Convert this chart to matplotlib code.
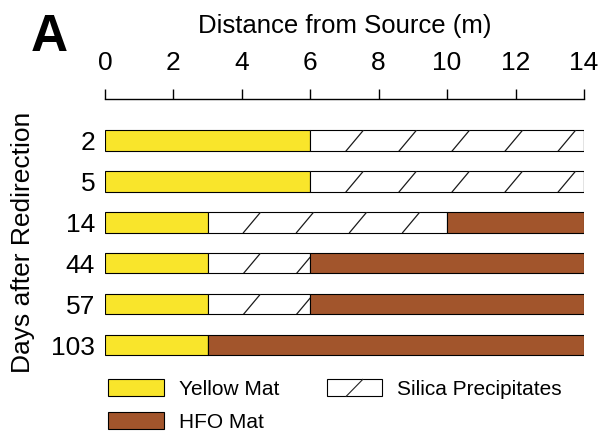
import matplotlib.pyplot as plt
from matplotlib.patches import Patch, Rectangle
from matplotlib.legend_handler import HandlerPatch
from matplotlib.lines import Line2D

plt.rcParams['font.family'] = ['Liberation Sans', 'DejaVu Sans']

days = ['2', '5', '14', '44', '57', '103']
yellow_mat = [6, 6, 3, 3, 3, 3]
silica = [8, 8, 7, 3, 3, 0]
hfo_mat = [0, 0, 4, 8, 8, 11]

yellow_col = '#F9E52B'
hfo_col = '#A2552C'
hatch_step = 1.55
hatch_slant = 0.5
bar_h = 0.5


class SlashHandler(HandlerPatch):
    # legend box with a single slash like the original
    def create_artists(self, legend, orig_handle, xdescent, ydescent,
                       width, height, fontsize, trans):
        r = Rectangle((-xdescent, -ydescent), width, height, facecolor='white',
                      edgecolor='black', lw=0.8, transform=trans)
        ln = Line2D([-xdescent + width * 0.35, -xdescent + width * 0.65],
                    [-ydescent, -ydescent + height], color='#222222', lw=0.8,
                    transform=trans)
        return [r, ln]


fig = plt.figure(figsize=(5.99, 4.32), dpi=100)
ax = fig.add_axes([0.175, 0.154, 0.8, 0.617])

ypos = list(range(len(days)))
ax.barh(ypos, yellow_mat, height=bar_h, color=yellow_col, edgecolor='black', lw=0.8)
sil_bars = ax.barh(ypos, silica, left=yellow_mat, height=bar_h, color='white',
                   edgecolor='black', lw=0.8)
left_hfo = [a + b for a, b in zip(yellow_mat, silica)]
ax.barh(ypos, hfo_mat, left=left_hfo, height=bar_h, color=hfo_col, edgecolor='black', lw=0.8)

# sparse diagonal hatch for silica precipitates
for y, x0, w, bar in zip(ypos, yellow_mat, silica, sil_bars):
    if w <= 0:
        continue
    x = x0 - hatch_slant
    while x < x0 + w:
        ln = Line2D([x, x + hatch_slant], [y + bar_h / 2, y - bar_h / 2],
                    color='#1a1a1a', lw=0.9)
        ax.add_line(ln)
        ln.set_clip_path(bar)
        x += hatch_step

ax.set_xlim(0, 14)
ax.set_ylim(5.5, -1.02)
ax.set_xticks(range(0, 15, 2))
ax.xaxis.tick_top()
ax.xaxis.set_label_position('top')
ax.tick_params(axis='x', direction='out', length=7, width=1, labelsize=19, pad=10)
ax.set_xlabel('Distance from Source (m)', fontsize=18.5, labelpad=13)
ax.set_yticks(ypos)
ax.set_yticklabels(days)
ax.tick_params(axis='y', length=0, labelsize=19, pad=7)
ax.set_ylabel('Days after Redirection', fontsize=19)
ax.yaxis.set_label_coords(-0.145, 0.463)
for s in ['right', 'bottom', 'left']:
    ax.spines[s].set_visible(False)
ax.spines['top'].set_linewidth(1)

fig.text(0.052, 0.97, 'A', fontsize=37, fontweight='bold', va='top', ha='left')

handles = [Patch(facecolor=yellow_col, edgecolor='black', lw=0.8),
           Patch(facecolor=hfo_col, edgecolor='black', lw=0.8),
           Patch(facecolor='white', edgecolor='black')]
labels = ['Yellow Mat', 'HFO Mat', 'Silica Precipitates']
fig.legend(handles, labels, ncol=2, loc='upper left', bbox_to_anchor=(0.167, 0.141),
           frameon=False, fontsize=15, handlelength=2.65, handleheight=0.87,
           handletextpad=0.72, columnspacing=2.3, labelspacing=0.62,
           borderaxespad=0, handler_map={handles[2]: SlashHandler()})

fig.savefig('out.png', dpi=100)
